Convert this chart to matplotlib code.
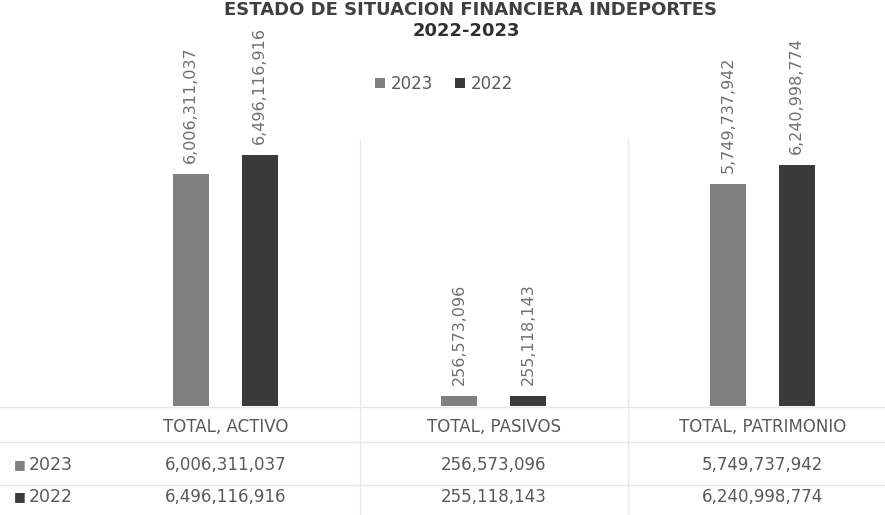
import matplotlib
matplotlib.use("Agg")
import matplotlib.pyplot as plt
import matplotlib.transforms as mtransforms
from matplotlib.lines import Line2D
import numpy as np

# Data
categories = ["TOTAL, ACTIVO", "TOTAL, PASIVOS", "TOTAL, PATRIMONIO"]
values_2023 = [6006311037, 256573096, 5749737942]
values_2022 = [6496116916, 255118143, 6240998774]
series_names = ["2023", "2022"]
title_line1 = "ESTADO DE SITUACION FINANCIERA INDEPORTES"
title_line2 = "2022-2023"

color_2023 = "#808080"
color_2022 = "#3a3a3a"
text_color = "#595959"
label_color = "#707070"
grid_color = "#e8e8e8"

W, H = 885, 515
fig = plt.figure(figsize=(W / 100, H / 100), dpi=100)
plt.rcParams["font.family"] = ["DejaVu Sans"]


def fx(px):
    return px / W


def fy(py):
    return 1 - py / H


# Plot area: baseline at y=406 px, top at 20 px
ax_left, ax_right = 91, 885
ax_top, ax_bottom = 20, 406
ax = fig.add_axes([fx(ax_left), fy(ax_bottom), fx(ax_right - ax_left), (ax_bottom - ax_top) / H])
x = np.arange(len(categories))
spacing = 268.5
ax.set_xlim(-0.5, -0.5 + (ax_right - ax_left) / spacing)
ax.set_ylim(0, 1.0e10)

offset = 34.5 / spacing
width = 36 / spacing
bars_2023 = ax.bar(x - offset, values_2023, width, color=color_2023, label=series_names[0], zorder=3)
bars_2022 = ax.bar(x + offset, values_2022, width, color=color_2022, label=series_names[1], zorder=3)

# Rotated data labels above each bar
for bars, vals in [(bars_2023, values_2023), (bars_2022, values_2022)]:
    for b, v in zip(bars, vals):
        ax.annotate(f"{v:,}", (b.get_x() + b.get_width() / 2, v),
                    xytext=(0, 8), textcoords="offset points",
                    rotation=90, ha="center", va="bottom",
                    fontsize=11.5, color=label_color, annotation_clip=False)

ax.axis("off")

# Faint separators between categories (plot area + data table)
blend = mtransforms.blended_transform_factory(ax.transData, fig.transFigure)
for xs in [0.5, 1.5]:
    fig.add_artist(Line2D([xs, xs], [fy(140), fy(515)], transform=blend,
                          color=grid_color, lw=1))

# Horizontal table lines
for py in [407, 442, 485]:
    fig.add_artist(Line2D([0, 1], [fy(py), fy(py)], transform=fig.transFigure,
                          color=grid_color, lw=1))

# Data table: category header and values
for i, cat in enumerate(categories):
    fig.text(i, fy(427), cat, transform=blend, ha="center", va="center",
             fontsize=12, color=text_color)
    fig.text(i, fy(465), f"{values_2023[i]:,}", transform=blend,
             ha="center", va="center", fontsize=12, color=text_color)
    fig.text(i, fy(497), f"{values_2022[i]:,}", transform=blend,
             ha="center", va="center", fontsize=12, color=text_color)

# Row labels with legend keys
for py, name, col in [(465, series_names[0], color_2023), (497, series_names[1], color_2022)]:
    fig.text(fx(14), fy(py), "■", ha="left", va="center", fontsize=9, color=col)
    fig.text(fx(29), fy(py), name, ha="left", va="center", fontsize=12.5, color=text_color)

# Legend
fig.legend(handles=[bars_2023, bars_2022], labels=series_names, loc="center",
           bbox_to_anchor=(fx(444), fy(84)), ncol=2, frameon=False,
           fontsize=12, labelcolor=text_color, handlelength=0.6, handleheight=0.6,
           handletextpad=0.35, columnspacing=1.3)

# Title (two lines at the top)
fig.text(fx(470), fy(1), title_line1, ha="center", va="top",
         fontsize=13, fontweight="bold", color="#404040")
fig.text(fx(466), fy(31), title_line2, ha="center", va="center",
         fontsize=13, fontweight="bold", color="#303030")

fig.savefig("out.png", dpi=100, facecolor="white")
